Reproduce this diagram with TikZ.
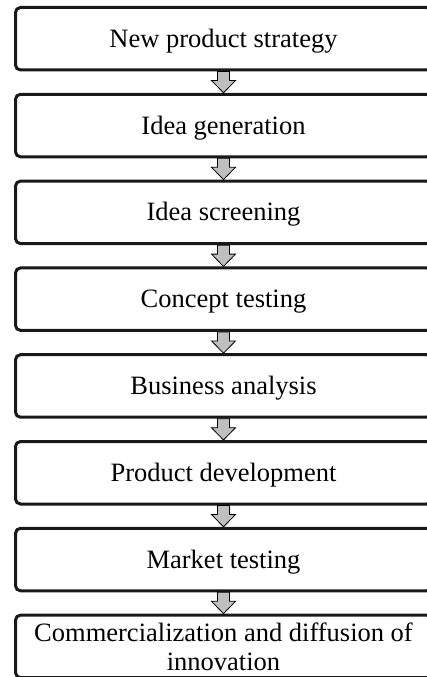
\documentclass[tikz,border=0pt]{standalone}
\usepackage{fontspec}
\setmainfont{Liberation Serif}
\usetikzlibrary{calc}
\begin{document}
\begin{tikzpicture}[x=1pt,y=-1pt,
  basebox/.style={draw=black!90, line width=3pt, rounded corners=5pt,
    minimum width=416pt, minimum height=62.5pt, inner sep=0pt,
    font=\fontsize{26.5}{29}\selectfont},
  stagebox/.style={basebox, text height=20pt, text depth=3pt},
  lastbox/.style={basebox, align=center},
  flowarrow/.style={draw=black, line width=0.8pt, fill=gray!50, line join=miter}]
\useasboundingbox (0,0) rectangle (427,677);

\node[stagebox] (b1) at (223.5,38.75)  {New product strategy};
\node[stagebox] (b2) at (223.5,125.55) {Idea generation};
\node[stagebox] (b3) at (223.5,212.35) {Idea screening};
\node[stagebox] (b4) at (223.5,299.15) {Concept testing};
\node[stagebox] (b5) at (223.5,385.95) {Business analysis};
\node[stagebox] (b6) at (223.5,472.75) {Product development};
\node[stagebox] (b7) at (223.5,559.55) {Market testing};
\node[lastbox]  (b8) at (223.5,646.35) {Commercialization and diffusion of\\innovation};

\foreach \a/\b in {b1/b2,b2/b3,b3/b4,b4/b5,b5/b6,b6/b7,b7/b8}{
  \draw[flowarrow] ($(\a.south)+(-6,0)$) -- ($(\a.south)+(-6,9)$) -- ($(\a.south)+(-12,9)$)
    -- (\b.north) -- ($(\a.south)+(12,9)$) -- ($(\a.south)+(6,9)$) -- ($(\a.south)+(6,0)$) -- cycle;
}
\end{tikzpicture}
\end{document}
